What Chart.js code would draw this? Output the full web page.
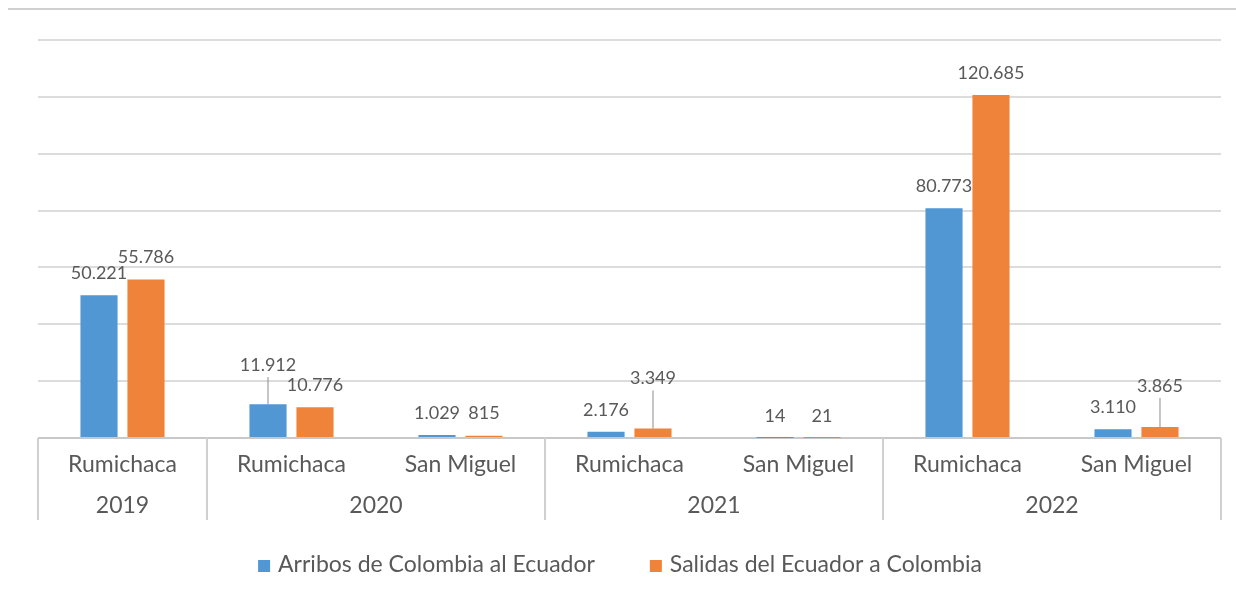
<!DOCTYPE html>
<html>
<head>
<meta charset="utf-8">
<script src="https://cdn.jsdelivr.net/npm/chart.js@4.4.0/dist/chart.umd.min.js"></script>
<style>
  html, body { margin: 0; padding: 0; background: #fff; }
  #wrap { position: relative; width: 1236px; height: 594px; }
</style>
</head>
<body>
<div id="wrap"><canvas id="chart" width="1236" height="594"></canvas></div>
<script>
// DATA
let pasos = ["Rumichaca", "Rumichaca", "San Miguel", "Rumichaca", "San Miguel", "Rumichaca", "San Miguel"];
let anios = ["2019", "2020", "2020", "2021", "2021", "2022", "2022"];
let arribos = [50221, 11912, 1029, 2176, 14, 80773, 3110];
let salidas = [55786, 10776, 815, 3349, 21, 120685, 3865];
let yTicks = [0, 20000, 40000, 60000, 80000, 100000, 120000, 140000];
let series = ["Arribos de Colombia al Ecuador", "Salidas del Ecuador a Colombia"];

const gray = "#595959";
const font = "Lato";

// label lifts (px) for labels pushed up with a leader line
const lifts = [[0, 17, 0, 0, 0, 0, 0], [0, 0, 0, 28, 0, 0, 19]];

function fmt(v) {
    return v.toString().replace(/\B(?=(\d{3})+(?!\d))/g, ".");
}

const extras = {
    id: "extras",
    beforeDraw(chart) {
        let ctx = chart.ctx;
        ctx.save();
        ctx.strokeStyle = "#d0d0d0";
        ctx.lineWidth = 2;
        ctx.beginPath();
        ctx.moveTo(8, 9);
        ctx.lineTo(1236, 9);
        ctx.stroke();
        ctx.restore();
    },
    afterDatasetsDraw(chart) {
        let ctx = chart.ctx;
        ctx.save();
        ctx.font = "18px " + font;
        ctx.fillStyle = gray;
        ctx.textAlign = "center";
        ctx.textBaseline = "middle";
        chart.data.datasets.forEach((ds, d) => {
            chart.getDatasetMeta(d).data.forEach((bar, i) => {
                let lift = lifts[d][i];
                let ty = bar.y - 22 - lift;
                ctx.fillText(fmt(ds.data[i]), bar.x, ty);
                if (lift > 0) {
                    ctx.strokeStyle = "#8c8c8c";
                    ctx.lineWidth = 1;
                    ctx.beginPath();
                    ctx.moveTo(bar.x, ty + 12);
                    ctx.lineTo(bar.x, bar.y);
                    ctx.stroke();
                }
            });
        });
        ctx.restore();
    },
    afterDraw(chart) {
        let ctx = chart.ctx;
        let x = chart.scales.x;
        let area = chart.chartArea;
        ctx.save();

        // year group separators and labels
        let edges = [area.left];
        for (let i = 1; i < anios.length; i++) {
            if (anios[i] !== anios[i - 1]) {
                edges.push((x.getPixelForValue(i - 1) + x.getPixelForValue(i)) / 2);
            }
        }
        edges.push(area.right);
        ctx.strokeStyle = "#d0d0d0";
        ctx.lineWidth = 2;
        edges.forEach(e => {
            ctx.beginPath();
            ctx.moveTo(e, area.bottom);
            ctx.lineTo(e, area.bottom + 82);
            ctx.stroke();
        });

        ctx.font = "23px " + font;
        ctx.fillStyle = gray;
        ctx.textAlign = "center";
        ctx.textBaseline = "middle";
        let start = 0;
        for (let i = 1; i <= anios.length; i++) {
            if (i === anios.length || anios[i] !== anios[start]) {
                let cx = (x.getPixelForValue(start) + x.getPixelForValue(i - 1)) / 2;
                ctx.fillText(anios[start], cx, area.bottom + 68);
                start = i;
            }
        }

        // legend
        ctx.font = "23px " + font;
        let box = 12, gap = 8, space = 55;
        let widths = series.map(s => ctx.measureText(s).width);
        let total = widths[0] + widths[1] + 2 * (box + gap) + space;
        let lx = 620 - total / 2;
        let ly = 565;
        ctx.textAlign = "left";
        chart.data.datasets.forEach((ds, d) => {
            ctx.fillStyle = ds.backgroundColor;
            ctx.fillRect(lx, ly - box / 2 + 1, box, box);
            ctx.fillStyle = gray;
            ctx.fillText(ds.label, lx + box + gap, ly);
            lx += box + gap + widths[d] + space;
        });
        ctx.restore();
    }
};

new Chart(document.getElementById("chart"), {
    type: "bar",
    data: {
        labels: pasos,
        datasets: [
            { label: series[0], data: arribos, backgroundColor: "#5097D4" },
            { label: series[1], data: salidas, backgroundColor: "#F0833A" }
        ]
    },
    options: {
        responsive: false,
        animation: false,
        devicePixelRatio: 1,
        datasets: { bar: { categoryPercentage: 0.556, barPercentage: 0.79 } },
        layout: { padding: { left: 38, right: 15, top: 40, bottom: 56 } },
        plugins: { legend: { display: false }, tooltip: { enabled: false } },
        scales: {
            x: {
                grid: { display: false, drawTicks: false },
                border: { display: false },
                ticks: {
                    color: gray,
                    font: { family: font, size: 23 },
                    padding: 13,
                    maxRotation: 0,
                    autoSkip: false
                },
                afterFit: s => { s.height = 100; }
            },
            y: {
                min: 0,
                max: 140000,
                afterBuildTicks: s => { s.ticks = yTicks.map(v => ({ value: v })); },
                afterFit: s => { s.width = 0; },
                grid: {
                    drawTicks: false,
                    lineWidth: 2,
                    color: c => c.tick.value === 0 ? "#c8c8c8" : "#dcdcdc"
                },
                border: { display: false },
                ticks: { display: false }
            }
        }
    },
    plugins: [extras]
});
</script>
</body>
</html>
